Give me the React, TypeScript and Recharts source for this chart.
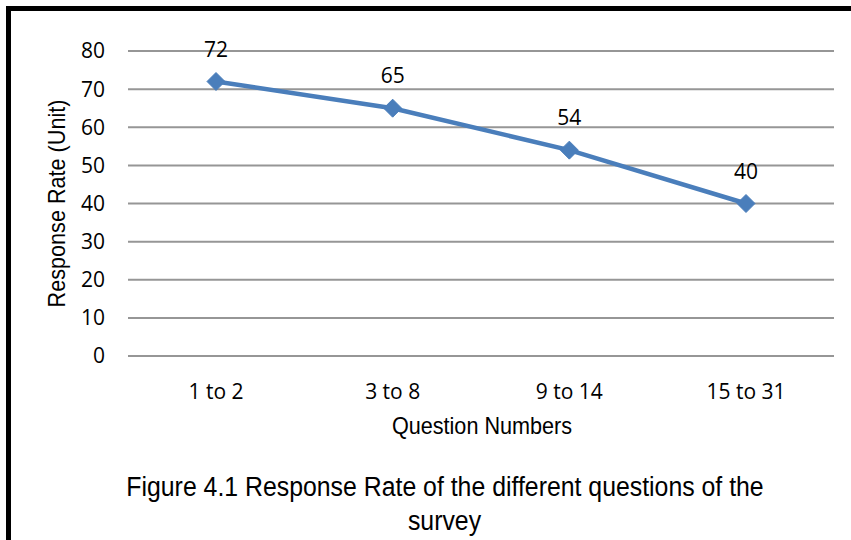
import { CartesianGrid, LabelList, Line, LineChart, XAxis, YAxis } from 'recharts';

const categories = ['1 to 2', '3 to 8', '9 to 14', '15 to 31'];
const responseRate = [72, 65, 54, 40];
const yTicks = [0, 10, 20, 30, 40, 50, 60, 70, 80];

const LINE_BLUE = '#4A7EBB';
const tickFont = { fontFamily: '"Open Sans", sans-serif', fontSize: 21, fill: '#000' };
const titleFont = '"Liberation Sans", Arial, sans-serif';

const chartData = categories.map((category, i) => ({ category, value: responseRate[i] }));

function DiamondDot(props: any) {
  const { cx, cy } = props;
  if (cx == null || cy == null) return null;
  const r = 9;
  return (
    <path
      d={`M${cx},${cy - r} L${cx + r},${cy} L${cx},${cy + r} L${cx - r},${cy} Z`}
      fill={LINE_BLUE}
      stroke={LINE_BLUE}
      strokeWidth={1}
    />
  );
}

export default function App() {
  return (
    <div style={{ position: 'absolute', left: 0, top: 0, width: 851, height: 540, background: '#fff', overflow: 'hidden' }}>
      {/* black frame, top and left edges only */}
      <div style={{ position: 'absolute', left: 6, top: 6, width: 845, height: 5, background: '#000' }} />
      <div style={{ position: 'absolute', left: 6, top: 6, width: 5, height: 534, background: '#000' }} />

      <div style={{ position: 'absolute', left: 0, top: 0 }}>
        <LineChart width={851} height={540} data={chartData} margin={{ top: 51, right: 17, left: 68, bottom: 124 }}>
          <CartesianGrid vertical={false} stroke="#969696" strokeWidth={2} />
          <XAxis
            dataKey="category"
            axisLine={false}
            tickLine={false}
            tick={tickFont}
            tickMargin={22}
            height={60}
            padding={{ left: 88, right: 88 }}
            interval={0}
          />
          <YAxis
            domain={[0, 80]}
            ticks={yTicks}
            axisLine={false}
            tickLine={false}
            tick={tickFont}
            tickMargin={17}
            width={60}
            interval={0}
          />
          <Line
            type="linear"
            dataKey="value"
            stroke={LINE_BLUE}
            strokeWidth={4.5}
            dot={<DiamondDot />}
            activeDot={false}
            isAnimationActive={false}
          >
            <LabelList dataKey="value" position="top" offset={25} style={tickFont} />
          </Line>
        </LineChart>
      </div>

      {/* axis titles and caption */}
      <svg width={851} height={540} style={{ position: 'absolute', left: 0, top: 0, pointerEvents: 'none' }}>
        <text
          transform="translate(65,203.5) rotate(-90) scale(0.94,1)"
          textAnchor="middle"
          fontFamily={titleFont}
          fontSize={23}
          fill="#000"
        >
          Response Rate (Unit)
        </text>
        <text
          transform="translate(482,434) scale(0.94,1)"
          textAnchor="middle"
          fontFamily={titleFont}
          fontSize={23}
          fill="#000"
        >
          Question Numbers
        </text>
        <text
          transform="translate(445,496) scale(0.92,1)"
          textAnchor="middle"
          fontFamily={titleFont}
          fontSize={27}
          fill="#000"
        >
          Figure 4.1 Response Rate of the different questions of the
        </text>
        <text
          transform="translate(444.5,530) scale(0.92,1)"
          textAnchor="middle"
          fontFamily={titleFont}
          fontSize={27}
          fill="#000"
        >
          survey
        </text>
      </svg>
    </div>
  );
}
